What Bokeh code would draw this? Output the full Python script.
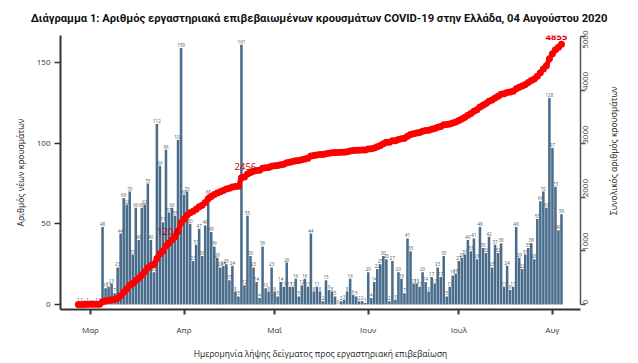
import math
import numpy as np
import pandas as pd
from bokeh.plotting import figure
from bokeh.layouts import row, column
from bokeh.models import ColumnDataSource, Range1d, LinearAxis, FixedTicker, Label
from bokeh.embed import file_html
from bokeh.resources import INLINE
from bokeh.core.properties import value

# ---------------- data ----------------
start_date = "2020-02-26"
end_date = "2020-08-04"

new_cases = [
    1, 1, 0, 1, 0, 0, 1, 1, 48, 10,
    11, 13, 7, 23, 44, 66, 62, 70, 31, 60,
    40, 60, 62, 75, 40, 20, 112, 86, 51, 96,
    57, 60, 55, 102, 159, 68, 70, 50, 27, 37,
    47, 30, 49, 68, 45, 36, 29, 23, 24, 25,
    15, 24, 8, 5, 161, 12, 55, 30, 23, 14,
    4, 36, 10, 8, 23, 8, 5, 14, 11, 26,
    11, 11, 16, 5, 12, 16, 11, 44, 8, 11,
    8, 2, 15, 9, 8, 5, 0, 2, 3, 8,
    16, 6, 5, 2, 2, 1, 20, 4, 14, 22,
    25, 30, 28, 2, 27, 3, 20, 16, 7, 41,
    33, 13, 13, 11, 20, 14, 8, 17, 13, 23,
    17, 30, 5, 11, 18, 19, 27, 29, 31, 40,
    33, 41, 28, 48, 35, 32, 42, 23, 37, 32,
    38, 11, 24, 9, 11, 48, 29, 22, 31, 35,
    38, 28, 53, 64, 70, 60, 128, 97, 73, 46,
    56,
]

month_ticks = ["2020-03-01", "2020-04-01", "2020-05-01", "2020-06-01", "2020-07-01", "2020-08-01"]
month_labels = ["Μαρ", "Απρ", "Μαΐ", "Ιουν", "Ιουλ", "Αυγ"]
left_ticks = [0, 50, 100, 150]
right_ticks = [0, 1000, 2000, 3000, 4000, 5000]

cum_label_dates = ["2020-03-28", "2020-04-20", "2020-08-04"]
cum_label_texts = ["1204", "2456", "4855"]

title_text = "Διάγραμμα 1: Αριθμός εργαστηριακά επιβεβαιωμένων κρουσμάτων COVID-19 στην Ελλάδα, 04 Αυγούστου 2020"
y_left_title = "Αριθμός νέων κρουσμάτων"
y_right_title = "Συνολικός αριθμός κρουσμάτων"
x_title = "Ημερομηνία λήψης δείγματος προς εργαστηριακή επιβεβαίωση"

# ---------------- derived ----------------
dates = pd.date_range(start_date, end_date, freq="D")
t0 = dates[0]
n = min(len(dates), len(new_cases))
day = np.array([(d - t0).days for d in dates[:n]], dtype=float)
cases = np.array(new_cases[:n], dtype=float)
cum = np.cumsum(cases)

src = ColumnDataSource(dict(d=day, cases=cases, cum=cum,
                            lbl=[str(int(v)) for v in cases]))

tick_days = [(pd.Timestamp(t) - t0).days for t in month_ticks]

BAR = "#4a6d8c"
RED = "#ff0000"
AX = "#333333"
FONT = "Open Sans"

TOTAL_W, TITLE_H = 638, 30
MAIN_W, SIDE_W, H = 600, 38, 333


def bare(fig):
    fig.outline_line_color = None
    fig.xgrid.grid_line_color = None
    fig.ygrid.grid_line_color = None
    fig.background_fill_color = "white"
    fig.border_fill_color = "white"


# ---------- title strip ----------
top = figure(width=TOTAL_W, height=TITLE_H, output_backend="svg", toolbar_location=None,
             x_range=Range1d(0, TOTAL_W), y_range=Range1d(0, TITLE_H),
             x_axis_location=None, y_axis_location=None,
             min_border_left=0, min_border_right=0, min_border_top=0, min_border_bottom=0)
bare(top)
top.text(x=[318.5], y=[12], text=[title_text], text_font=value("Roboto"),
         text_font_style="bold", text_font_size="11.2px", text_color="#111111",
         text_align="center", text_baseline="middle")

# ---------- main chart ----------
p = figure(width=MAIN_W, height=H, output_backend="svg", toolbar_location=None,
           x_range=Range1d(-5.93, 166.3), y_range=Range1d(-3.1, 166.8),
           min_border_left=60, min_border_right=20, min_border_top=5,
           min_border_bottom=54)
try:
    p.title = None
except Exception:
    pass
p.extra_y_ranges = {"cum": Range1d(-93.3, 5019)}
bare(p)

# bottom axis
xa = p.xaxis[0]
xa.ticker = FixedTicker(ticks=tick_days)
xa.major_label_overrides = {int(k): v for k, v in zip(tick_days, month_labels)}
xa.axis_line_color = AX
xa.axis_line_width = 2
xa.major_tick_line_color = AX
xa.major_tick_line_width = 2
xa.major_tick_out = 5
xa.major_tick_in = 0
xa.minor_tick_line_color = None
xa.major_label_standoff = 9
xa.major_label_text_font = FONT
xa.major_label_text_font_size = "8px"
xa.major_label_text_color = AX
xa.axis_label = x_title
xa.axis_label_standoff = 10
xa.axis_label_text_font = FONT
xa.axis_label_text_font_size = "8.5px"
xa.axis_label_text_font_style = "normal"
xa.axis_label_text_color = "#222222"

# left axis
ya = p.yaxis[0]
ya.ticker = FixedTicker(ticks=left_ticks)
ya.axis_line_color = AX
ya.axis_line_width = 2
ya.major_tick_line_color = AX
ya.major_tick_line_width = 1.5
ya.major_tick_out = 6
ya.major_tick_in = 0
ya.minor_tick_line_color = None
ya.major_label_standoff = 4
ya.major_label_text_font = FONT
ya.major_label_text_font_size = "8px"
ya.major_label_text_color = AX
ya.axis_label = y_left_title
ya.axis_label_standoff = 8
ya.axis_label_text_font = FONT
ya.axis_label_text_font_size = "8.5px"
ya.axis_label_text_font_style = "normal"
ya.axis_label_text_color = "#222222"

# right axis (ticks + tick labels)
ra = LinearAxis(y_range_name="cum", ticker=FixedTicker(ticks=right_ticks), bounds=(0, 5000))
ra.axis_line_color = "#555555"
ra.axis_line_width = 1.5
ra.major_tick_line_color = "#555555"
ra.major_tick_line_width = 1.5
ra.major_tick_out = 5
ra.major_tick_in = 0
ra.minor_tick_line_color = None
ra.major_label_standoff = 0
ra.major_label_orientation = math.pi / 2
ra.major_label_text_font = FONT
ra.major_label_text_font_size = "8px"
ra.major_label_text_color = AX
p.add_layout(ra, "right")

# bars
p.vbar(x="d", top="cases", width=0.85, source=src, fill_color=BAR, line_color=None)
p.text(x="d", y="cases", text="lbl", source=src, text_font=value(FONT),
       text_font_size="4.5px", text_color="#555555", text_align="center",
       text_baseline="bottom", y_offset=-1)

# cumulative line
p.line(x="d", y="cum", source=src, y_range_name="cum", line_color=RED, line_width=5)
p.scatter(x="d", y="cum", source=src, y_range_name="cum", size=7,
          fill_color=RED, line_color=None)

# cumulative labels anchored on data points
offsets = [(-4, 8, "normal", "#b80000"), (4, 11, "normal", "#c00000"), (-5, 7, "bold", "#e00000")]
for dstr, txt, (dx, dy, fs, col) in zip(cum_label_dates, cum_label_texts, offsets):
    i = (pd.Timestamp(dstr) - t0).days
    i = min(i, n - 1)
    p.add_layout(Label(x=day[i], y=cum[i], y_range_name="cum", text=txt,
                       x_offset=dx, y_offset=dy, text_color=col,
                       text_font=FONT, text_font_size="9.5px", text_font_style=fs,
                       text_align="center", text_baseline="middle"))

# ---------- side strip with the right-axis title ----------
side = figure(width=SIDE_W, height=H, output_backend="svg", toolbar_location=None,
              x_range=Range1d(0, SIDE_W), y_range=Range1d(0, H),
              x_axis_location=None, y_axis_location=None,
              min_border_left=0, min_border_right=0, min_border_top=0, min_border_bottom=0)
bare(side)
side.text(x=[13], y=[H - (170 - TITLE_H)], text=[y_right_title], angle=math.pi / 2,
          text_font=value(FONT), text_font_size="8.5px", text_color="#222222",
          text_align="center", text_baseline="middle")

layout = column(top, row(p, side, spacing=0), spacing=0)
open("out.html", "w").write(file_html(layout, INLINE))
